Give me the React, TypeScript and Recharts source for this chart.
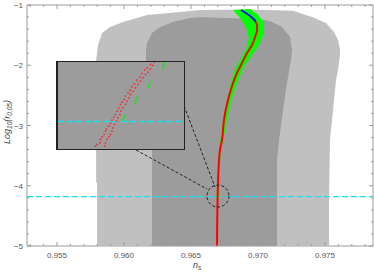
import { ScatterChart, Scatter, XAxis, YAxis } from 'recharts'

document.body.style.margin = '0'

type Pt = { ns: number; logr: number }

// frame ranges
const nsDomain: [number, number] = [0.95276, 0.97858]
const logrDomain: [number, number] = [-5, -1]
const insetNsDomain: [number, number] = [0.966903, 0.967155]
const insetLogrDomain: [number, number] = [-4.3125, -3.8825]

const xMajor = [0.955, 0.96, 0.965, 0.97, 0.975]
const xTicks = [
  0.953, 0.954, 0.955, 0.956, 0.957, 0.958, 0.959, 0.96, 0.961, 0.962, 0.963, 0.964, 0.965,
  0.966, 0.967, 0.968, 0.969, 0.97, 0.971, 0.972, 0.973, 0.974, 0.975, 0.976, 0.977, 0.978,
]
const yMajor = [-5, -4, -3, -2, -1]
const yTicks = [
  -5, -4.8, -4.6, -4.4, -4.2, -4, -3.8, -3.6, -3.4, -3.2, -3, -2.8, -2.6, -2.4, -2.2, -2,
  -1.8, -1.6, -1.4, -1.2, -1,
]

// 95% region (light)
const region95: Pt[] = [
  { ns: 0.95799, logr: -5 }, { ns: 0.95799, logr: -3.96 }, { ns: 0.95792, logr: -3.94 },
  { ns: 0.95792, logr: -1.913 }, { ns: 0.95806, logr: -1.664 }, { ns: 0.95836, logr: -1.465 },
  { ns: 0.95896, logr: -1.365 }, { ns: 0.95993, logr: -1.282 }, { ns: 0.96172, logr: -1.166 },
  { ns: 0.96418, logr: -1.116 }, { ns: 0.96567, logr: -1.083 }, { ns: 0.9694, logr: -1.075 },
  { ns: 0.97261, logr: -1.095 }, { ns: 0.97403, logr: -1.2 }, { ns: 0.97507, logr: -1.299 },
  { ns: 0.97567, logr: -1.448 }, { ns: 0.97597, logr: -1.58 }, { ns: 0.97612, logr: -1.747 },
  { ns: 0.97612, logr: -1.83 }, { ns: 0.97597, logr: -2.079 }, { ns: 0.97582, logr: -2.245 },
  { ns: 0.9756, logr: -2.743 }, { ns: 0.97537, logr: -3.241 }, { ns: 0.9753, logr: -4.237 },
  { ns: 0.9753, logr: -5 },
]

// 68% region (dark)
const region68: Pt[] = [
  { ns: 0.96209, logr: -5 }, { ns: 0.96209, logr: -3.407 }, { ns: 0.96194, logr: -3.075 },
  { ns: 0.96172, logr: -2.577 }, { ns: 0.96164, logr: -1.913 }, { ns: 0.96164, logr: -1.747 },
  { ns: 0.96172, logr: -1.631 }, { ns: 0.96209, logr: -1.465 }, { ns: 0.96269, logr: -1.365 },
  { ns: 0.96366, logr: -1.282 }, { ns: 0.96493, logr: -1.216 }, { ns: 0.96567, logr: -1.205 },
  { ns: 0.97015, logr: -1.232 }, { ns: 0.9709, logr: -1.266 }, { ns: 0.97179, logr: -1.365 },
  { ns: 0.97239, logr: -1.531 }, { ns: 0.97254, logr: -1.747 }, { ns: 0.97246, logr: -1.913 },
  { ns: 0.97216, logr: -2.295 }, { ns: 0.97187, logr: -2.743 }, { ns: 0.97157, logr: -3.241 },
  { ns: 0.97142, logr: -3.573 }, { ns: 0.97142, logr: -5 },
]

// green band of model points
const greenBand: Pt[] = [
  { ns: 0.96813, logr: -1.083 }, { ns: 0.96866, logr: -1.216 }, { ns: 0.96913, logr: -1.382 },
  { ns: 0.96932, logr: -1.548 }, { ns: 0.96913, logr: -1.714 }, { ns: 0.96876, logr: -1.88 },
  { ns: 0.96836, logr: -2.029 }, { ns: 0.96796, logr: -2.295 }, { ns: 0.96771, logr: -2.577 },
  { ns: 0.96748, logr: -2.859 }, { ns: 0.96726, logr: -3.124 }, { ns: 0.96711, logr: -3.407 },
  { ns: 0.96699, logr: -3.822 }, { ns: 0.96695, logr: -4.237 },
  { ns: 0.96707, logr: -4.237 }, { ns: 0.96711, logr: -3.822 }, { ns: 0.96722, logr: -3.407 },
  { ns: 0.96751, logr: -3.124 }, { ns: 0.96772, logr: -2.859 }, { ns: 0.968, logr: -2.577 },
  { ns: 0.96843, logr: -2.295 }, { ns: 0.96893, logr: -2.029 }, { ns: 0.96955, logr: -1.83 },
  { ns: 0.97007, logr: -1.664 }, { ns: 0.97045, logr: -1.465 }, { ns: 0.9704, logr: -1.282 },
  { ns: 0.96995, logr: -1.149 }, { ns: 0.9694, logr: -1.066 },
]

// red curve, top to bottom
const redCurve: Pt[] = [
  { ns: 0.96978, logr: -1.266 }, { ns: 0.96993, logr: -1.332 }, { ns: 0.96993, logr: -1.415 },
  { ns: 0.96978, logr: -1.531 }, { ns: 0.96955, logr: -1.664 }, { ns: 0.96918, logr: -1.797 },
  { ns: 0.96881, logr: -1.96 }, { ns: 0.96843, logr: -2.129 }, { ns: 0.96776, logr: -2.577 },
  { ns: 0.96746, logr: -2.909 }, { ns: 0.96731, logr: -3.241 }, { ns: 0.96716, logr: -3.407 },
  { ns: 0.96705, logr: -3.739 }, { ns: 0.96698, logr: -4.237 }, { ns: 0.96694, logr: -5 },
]

const blueCurve: Pt[] = [
  { ns: 0.96873, logr: -1.083 }, { ns: 0.9694, logr: -1.183 }, { ns: 0.96982, logr: -1.266 },
]

const observedR: Pt[] = [
  { ns: nsDomain[0], logr: -4.18 }, { ns: nsDomain[1], logr: -4.18 },
]

const zoomCircle: Pt[] = [{ ns: 0.96701, logr: -4.17 }]
const connectorA: Pt[] = [{ ns: 0.96448, logr: -2.676 }, { ns: 0.96679, logr: -4.021 }]
const connectorB: Pt[] = [{ ns: 0.9609, logr: -3.407 }, { ns: 0.96619, logr: -4.054 }]

// inset: zoom near the circle
const insetRedA: Pt[] = [
  { ns: 0.966978, logr: -4.303 }, { ns: 0.966981, logr: -4.295 }, { ns: 0.966987, logr: -4.287 },
  { ns: 0.966988, logr: -4.27 }, { ns: 0.966991, logr: -4.257 }, { ns: 0.966995, logr: -4.245 },
  { ns: 0.966998, logr: -4.228 }, { ns: 0.967, logr: -4.217 }, { ns: 0.967005, logr: -4.203 },
  { ns: 0.967008, logr: -4.19 }, { ns: 0.967011, logr: -4.173 }, { ns: 0.967015, logr: -4.158 },
  { ns: 0.967018, logr: -4.145 }, { ns: 0.967021, logr: -4.128 }, { ns: 0.967025, logr: -4.112 },
  { ns: 0.967028, logr: -4.095 }, { ns: 0.967031, logr: -4.083 }, { ns: 0.967035, logr: -4.07 },
  { ns: 0.967038, logr: -4.053 }, { ns: 0.967043, logr: -4.037 }, { ns: 0.967047, logr: -4.023 },
  { ns: 0.967051, logr: -4.007 }, { ns: 0.967056, logr: -3.992 }, { ns: 0.967061, logr: -3.973 },
  { ns: 0.967067, logr: -3.957 }, { ns: 0.967071, logr: -3.94 }, { ns: 0.967076, logr: -3.923 },
  { ns: 0.967081, logr: -3.912 }, { ns: 0.967088, logr: -3.895 }, { ns: 0.967095, logr: -3.883 },
]
const insetRedB: Pt[] = [
  { ns: 0.966996, logr: -4.303 }, { ns: 0.966998, logr: -4.287 }, { ns: 0.967001, logr: -4.27 },
  { ns: 0.967005, logr: -4.257 }, { ns: 0.967008, logr: -4.245 }, { ns: 0.967011, logr: -4.228 },
  { ns: 0.967013, logr: -4.212 }, { ns: 0.967016, logr: -4.195 }, { ns: 0.96702, logr: -4.178 },
  { ns: 0.967023, logr: -4.162 }, { ns: 0.967027, logr: -4.145 }, { ns: 0.967029, logr: -4.128 },
  { ns: 0.967033, logr: -4.112 }, { ns: 0.967038, logr: -4.095 }, { ns: 0.967041, logr: -4.078 },
  { ns: 0.967045, logr: -4.062 }, { ns: 0.967048, logr: -4.045 }, { ns: 0.967053, logr: -4.028 },
  { ns: 0.967058, logr: -4.012 }, { ns: 0.967063, logr: -3.995 }, { ns: 0.967068, logr: -3.978 },
  { ns: 0.967073, logr: -3.962 }, { ns: 0.967078, logr: -3.945 }, { ns: 0.967083, logr: -3.933 },
  { ns: 0.967088, logr: -3.917 }, { ns: 0.967093, logr: -3.9 },
]
const insetGreen: Pt[][] = [
  [{ ns: 0.967031, logr: -4.178 }, { ns: 0.967038, logr: -4.145 }],
  [{ ns: 0.967056, logr: -4.095 }, { ns: 0.967063, logr: -4.053 }],
  [{ ns: 0.967083, logr: -4.012 }, { ns: 0.967088, logr: -3.978 }],
  [{ ns: 0.967112, logr: -3.923 }, { ns: 0.967117, logr: -3.883 }],
]
const insetObserved: Pt[] = [
  { ns: insetNsDomain[0], logr: -4.18 }, { ns: insetNsDomain[1], logr: -4.18 },
]

const FRAME = '#9a9a9a'
const TICK_TEXT = '#555'
const FONT = '"Liberation Sans", Arial, sans-serif'

const isMajor = (v: number, majors: number[]) => majors.some(m => Math.abs(m - v) < 1e-9)

const NoDot = () => <g />

const fillPath = (color: string) => (props: any) => {
  const pts = (props.points || []) as { x: number; y: number }[]
  const d = pts.map((p, i) => `${i ? 'L' : 'M'}${p.x},${p.y}`).join('') + 'Z'
  return <path d={d} fill={color} stroke="none" />
}

function BottomTick({ x, y, payload }: any) {
  const major = isMajor(payload.value, xMajor)
  return (
    <g>
      <line x1={x} x2={x} y1={y} y2={y - (major ? 4 : 2)} stroke={FRAME} />
      {major && (
        <text x={x} y={y + 12} textAnchor="middle" fontSize={8} fill={TICK_TEXT} fontFamily={FONT}>
          {payload.value.toFixed(3)}
        </text>
      )}
    </g>
  )
}

function TopTick({ x, y, payload }: any) {
  const major = isMajor(payload.value, xMajor)
  return <line x1={x} x2={x} y1={y} y2={y + (major ? 4 : 2)} stroke={FRAME} />
}

function LeftTick({ x, y, payload }: any) {
  const major = isMajor(payload.value, yMajor)
  return (
    <g>
      <line x1={x} x2={x + (major ? 4 : 2)} y1={y} y2={y} stroke={FRAME} />
      {major && (
        <text x={x - 4} y={y + 3} textAnchor="end" fontSize={8} fill={TICK_TEXT} fontFamily={FONT}>
          {'\u2212' + Math.abs(payload.value)}
        </text>
      )}
    </g>
  )
}

function RightTick({ x, y, payload }: any) {
  const major = isMajor(payload.value, yMajor)
  return <line x1={x} x2={x - (major ? 4 : 2)} y1={y} y2={y} stroke={FRAME} />
}

function DashedCircle({ cx, cy }: any) {
  return <circle cx={cx} cy={cy} r={11} fill="none" stroke="#222" strokeWidth={1} strokeDasharray="3 2" />
}

function RedSquare({ cx, cy }: any) {
  return <rect x={cx - 0.75} y={cy - 0.75} width={1.5} height={1.5} fill="#f22" />
}

export default function App() {
  return (
    <div style={{ position: 'relative', width: 374, height: 274, background: '#fff' }}>
      <ScatterChart width={374} height={274} margin={{ top: 0, right: 0, bottom: 0, left: 0 }}>
        <XAxis
          type="number" dataKey="ns" domain={nsDomain} ticks={xTicks} interval={0}
          allowDataOverflow height={28} tickSize={0} tickMargin={0}
          axisLine={{ stroke: FRAME }} tickLine={false} tick={<BottomTick />}
        />
        <XAxis
          xAxisId="top" orientation="top" type="number" dataKey="ns" domain={nsDomain}
          ticks={xTicks} interval={0} allowDataOverflow height={5} tickSize={0} tickMargin={0}
          axisLine={{ stroke: FRAME }} tickLine={false} tick={<TopTick />}
        />
        <YAxis
          type="number" dataKey="logr" domain={logrDomain} ticks={yTicks} interval={0}
          allowDataOverflow width={27} tickSize={0} tickMargin={0}
          axisLine={{ stroke: FRAME }} tickLine={false} tick={<LeftTick />}
        />
        <YAxis
          yAxisId="right" orientation="right" type="number" dataKey="logr" domain={logrDomain}
          ticks={yTicks} interval={0} allowDataOverflow width={1} tickSize={0} tickMargin={0}
          axisLine={{ stroke: FRAME }} tickLine={false} tick={<RightTick />}
        />

        <Scatter data={region95} shape={NoDot} line={fillPath('#c0c0c0')} isAnimationActive={false} />
        <Scatter data={region68} shape={NoDot} line={fillPath('#9c9c9c')} isAnimationActive={false} />
        <Scatter
          data={observedR} shape={NoDot} isAnimationActive={false}
          line={{ stroke: '#12e2f5', strokeWidth: 1.3, strokeDasharray: '6 3' }}
        />
        <Scatter data={greenBand} shape={NoDot} line={fillPath('#00ff00')} isAnimationActive={false} />
        <Scatter
          data={redCurve} shape={NoDot} lineJointType="monotoneY" isAnimationActive={false}
          line={{ stroke: '#ff0000', strokeWidth: 2 }}
        />
        <Scatter
          data={blueCurve} shape={NoDot} lineJointType="monotoneY" isAnimationActive={false}
          line={{ stroke: '#0000ff', strokeWidth: 2 }}
        />
        <Scatter data={zoomCircle} shape={<DashedCircle />} isAnimationActive={false} />
        <Scatter
          data={connectorA} shape={NoDot} isAnimationActive={false}
          line={{ stroke: '#222', strokeWidth: 1, strokeDasharray: '3 2' }}
        />
        <Scatter
          data={connectorB} shape={NoDot} isAnimationActive={false}
          line={{ stroke: '#222', strokeWidth: 1, strokeDasharray: '3 2' }}
        />
      </ScatterChart>

      {/* inset */}
      <div
        style={{
          position: 'absolute', left: 56, top: 61, width: 129, height: 89, boxSizing: 'border-box',
          border: '1.5px solid #222', borderLeftWidth: 2, background: '#9c9c9c', overflow: 'hidden',
        }}
      >
        <ScatterChart width={126} height={86} margin={{ top: 0, right: 0, bottom: 0, left: 0 }}>
          <XAxis type="number" dataKey="ns" domain={insetNsDomain} allowDataOverflow hide />
          <YAxis type="number" dataKey="logr" domain={insetLogrDomain} allowDataOverflow hide />
          <Scatter
            data={insetObserved} shape={NoDot} isAnimationActive={false}
            line={{ stroke: '#12e2f5', strokeWidth: 1.3, strokeDasharray: '6 3' }}
          />
          {insetGreen.map((seg, i) => (
            <Scatter
              key={i} data={seg} shape={NoDot} isAnimationActive={false}
              line={{ stroke: '#22e022', strokeWidth: 1.5 }}
            />
          ))}
          <Scatter data={insetRedA} shape={<RedSquare />} isAnimationActive={false} />
          <Scatter data={insetRedB} shape={<RedSquare />} isAnimationActive={false} />
        </ScatterChart>
      </div>

      {/* axis titles */}
      <svg
        width={374} height={274}
        style={{ position: 'absolute', left: 0, top: 0, pointerEvents: 'none' }}
      >
        <text x={193} y={268} fontSize={9} fontStyle="italic" fill="#444" fontFamily={FONT}>
          n<tspan fontSize={6.5} dy={2}>s</tspan>
        </text>
        <text
          transform="translate(10,122) rotate(-90)" textAnchor="middle" fontSize={9}
          fontStyle="italic" fill="#444" fontFamily={FONT}
        >
          Log<tspan fontSize={6.5} dy={2}>10</tspan>
          <tspan dy={-2}>(r</tspan>
          <tspan fontSize={6.5} dy={2}>0.05</tspan>
          <tspan dy={-2}>)</tspan>
        </text>
      </svg>
    </div>
  )
}
